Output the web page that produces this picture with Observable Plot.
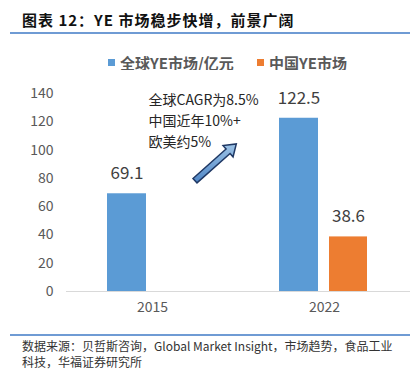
<!DOCTYPE html>
<html><head><meta charset="utf-8">
<script src="https://cdn.jsdelivr.net/npm/d3@7"></script>
<script src="https://cdn.jsdelivr.net/npm/@observablehq/plot@0.6"></script>
<style>
body{margin:0;background:#fff;font-family:"Noto Sans CJK SC","Noto Sans",sans-serif;}
#wrap{position:relative;width:414px;height:373px;overflow:hidden;background:#fff;}
.abs{position:absolute;}
#title{left:22px;top:10px;font-size:15px;line-height:20px;font-weight:700;color:#111;letter-spacing:1px;white-space:nowrap;}
.rule{left:10px;width:400px;height:2px;background:#6f9bd4;}
#legend{left:0;top:53px;width:414px;height:20px;font-size:15px;line-height:20px;color:#595959;font-weight:700;}
.lg{position:absolute;top:0;white-space:nowrap;}
.sw{display:inline-block;width:7px;height:7px;margin-right:5px;vertical-align:middle;position:relative;top:-2px;}
#chart{left:0;top:70px;}
#caption{left:22px;top:338px;font-size:12px;line-height:16px;color:#333;white-space:nowrap;}
</style></head>
<body>
<div id="wrap">
  <div id="title" class="abs"></div>
  <div class="abs rule" style="top:32px"></div>
  <div id="legend" class="abs"></div>
  <div id="chart" class="abs"></div>
  <div class="abs rule" style="top:334px"></div>
  <div id="caption" class="abs"></div>
</div>
<script>
// ---- data ----
const titleText = "图表 12：YE 市场稳步快增，前景广阔";
const years = ["2015", "2022"];
const seriesNames = ["全球YE市场/亿元", "中国YE市场"];
const globalMarket = [69.1, 122.5];
const chinaMarket = [null, 38.6];
const seriesColors = ["#5b9bd5", "#ed7d31"];
const yTicks = [0, 20, 40, 60, 80, 100, 120, 140];
const annotationLines = ["全球CAGR为8.5%", "中国近年10%+", "欧美约5%"];
const captionLines = ["数据来源：贝哲斯咨询，Global Market Insight，市场趋势，食品工业", "科技，华福证券研究所"];

// ---- rows ----
const globalRows = years.map((year, i) => ({year, value: globalMarket[i]})).filter(d => d.value != null);
const chinaRows = years.map((year, i) => ({year, value: chinaMarket[i]})).filter(d => d.value != null);

document.getElementById("title").textContent = titleText;
document.getElementById("caption").innerHTML = captionLines.join("<br>");

const legend = document.getElementById("legend");
const legendLeft = [108, 257];
seriesNames.forEach((name, i) => {
  const item = document.createElement("div");
  item.className = "lg";
  item.style.left = legendLeft[i] + "px";
  item.innerHTML = `<span class="sw" style="background:${seriesColors[i]}"></span>${name}`;
  legend.appendChild(item);
});

// block arrow annotation drawn from the scales
function growthArrow(index, scales) {
  const x = scales.x, y = scales.y;
  const step = x(years[1]) - x(years[0]);
  const x0 = x(years[0]);
  const tail = [x0 + 0.75 * step, y(78)];
  const tip = [x0 + 0.99 * step, y(104)];
  const dx = tip[0] - tail[0], dy = tip[1] - tail[1];
  const len = Math.hypot(dx, dy);
  const u = [dx / len, dy / len], n = [-u[1], u[0]];
  const sw = 3, hw = 7.5, hl = 11;
  const neck = [tip[0] - u[0] * hl, tip[1] - u[1] * hl];
  const p = (b, k) => [b[0] + n[0] * k, b[1] + n[1] * k];
  const pts = [p(tail, sw), p(neck, sw), p(neck, hw), tip, p(neck, -hw), p(neck, -sw), p(tail, -sw)];
  const g = d3.create("svg:g");
  const defs = g.append("defs");
  const grad = defs.append("linearGradient").attr("id", "arrowGrad")
    .attr("x1", "0").attr("y1", "0").attr("x2", "0").attr("y2", "1");
  grad.append("stop").attr("offset", "0%").attr("stop-color", "#9dc3e6");
  grad.append("stop").attr("offset", "100%").attr("stop-color", "#4f86c6");
  g.append("path")
    .attr("d", "M" + pts.map(q => q.join(",")).join("L") + "Z")
    .attr("fill", "url(#arrowGrad)")
    .attr("stroke", "#1f3864")
    .attr("stroke-width", 1.5)
    .attr("stroke-linejoin", "miter");
  return g.node();
}

const chart = Plot.plot({
  width: 414,
  height: 250,
  marginTop: 23,
  marginBottom: 29,
  marginLeft: 66,
  marginRight: 4,
  style: {fontFamily: '"Noto Sans CJK SC","Noto Sans",sans-serif', fontSize: "14px", color: "#595959", background: "#fff"},
  x: {domain: years, padding: 0, tickSize: 0, tickPadding: 11, label: null},
  y: {domain: [0, 140], ticks: yTicks, tickSize: 0, tickPadding: 13, label: null},
  marks: [
    Plot.barY(globalRows, {x: "year", y: "value", fill: seriesColors[0], insetLeft: 41, insetRight: 92}),
    Plot.barY(chinaRows, {x: "year", y: "value", fill: seriesColors[1], insetLeft: 91, insetRight: 43}),
    Plot.ruleY([0], {stroke: "#d9d9d9", strokeWidth: 1}),
    Plot.text(globalRows, {x: "year", y: "value", text: d => d.value.toFixed(1), dx: -25.5, dy: -20, fontSize: 17, fill: "#404040", letterSpacing: "1px"}),
    Plot.text(chinaRows, {x: "year", y: "value", text: d => d.value.toFixed(1), dx: 24, dy: -20, fontSize: 17, fill: "#404040", letterSpacing: "1px"}),
    Plot.text([annotationLines.join("\n")], {text: d => d, frameAnchor: "top-left", textAnchor: "start", lineAnchor: "top", dx: 82, dy: -3, lineHeight: 1.5, fontSize: 14, fill: "#262626"}),
    growthArrow
  ]
});
document.getElementById("chart").appendChild(chart);
</script>
</body></html>
